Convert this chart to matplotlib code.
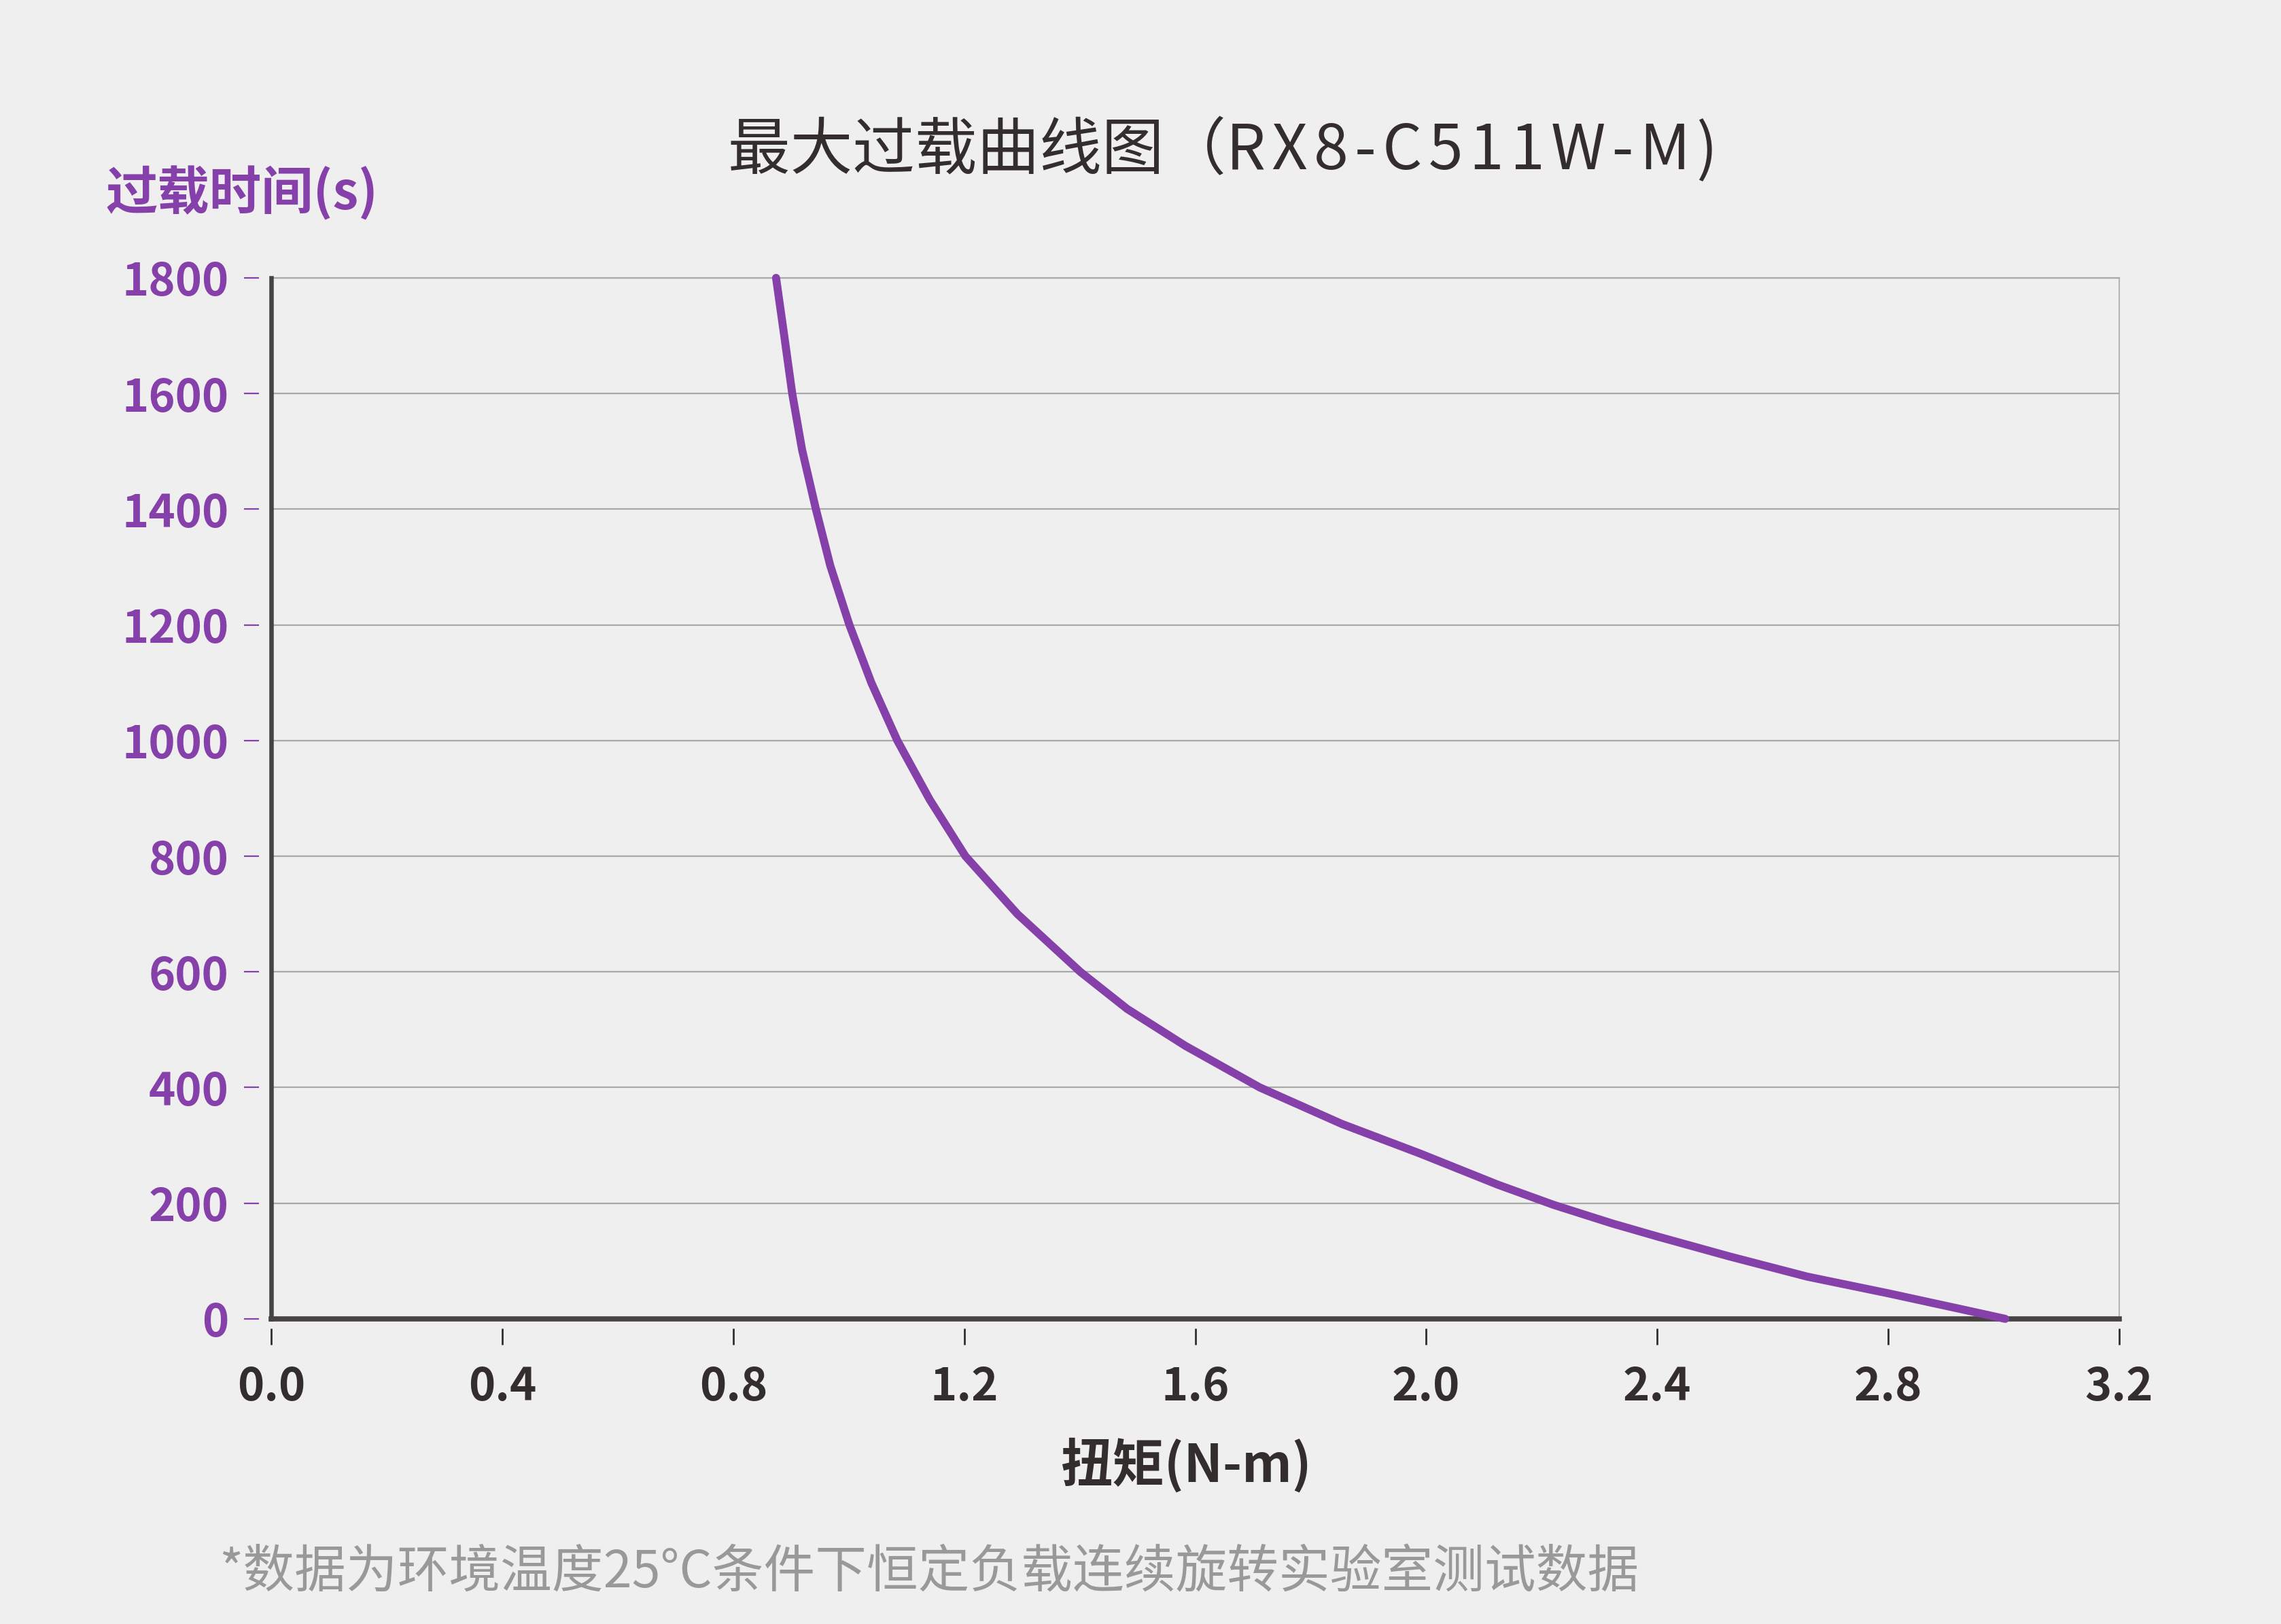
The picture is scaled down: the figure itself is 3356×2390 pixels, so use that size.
import matplotlib.pyplot as plt

# fonts
plt.rcParams['font.family'] = ['Noto Sans CJK SC', 'DejaVu Sans']

# colours
bg_color = '#efefef'
purple = '#8540a9'
dark = '#332e2d'
axis_dark = '#474342'
grid_grey = '#a9a9a9'
note_grey = '#999999'

# texts
title_cn = '最大过载曲线图（'
title_model = 'RX8-C511W-M)'
y_label = '过载时间(s)'
x_label = '扭矩(N-m)'
note = '*数据为环境温度25°C条件下恒定负载连续旋转实验室测试数据'

# data
torque = [0.874, 0.888, 0.902, 0.919, 0.943, 0.968, 1.001, 1.039, 1.084, 1.140,
          1.202, 1.292, 1.401, 1.482, 1.583, 1.712, 1.854, 1.989, 2.124, 2.221,
          2.322, 2.402, 2.525, 2.660, 2.801, 2.930, 3.003]
overload_time = [1800, 1701, 1600, 1503, 1400, 1302, 1200, 1100, 1000, 898,
                 800, 700, 600, 536, 472, 400, 337, 286, 232, 197,
                 165, 142, 108, 73, 44, 16, 0]

x_ticks = [0.0, 0.4, 0.8, 1.2, 1.6, 2.0, 2.4, 2.8, 3.2]
y_ticks = [0, 200, 400, 600, 800, 1000, 1200, 1400, 1600, 1800]

fig = plt.figure(figsize=(33.56, 23.9), dpi=100)
fig.set_facecolor(bg_color)
ax = fig.add_axes([0.119, 0.1879, 0.810, 0.641])
ax.set_facecolor(bg_color)

ax.plot(torque, overload_time, color=purple, lw=8.5, solid_capstyle='round',
        solid_joinstyle='round', zorder=5, clip_on=False)

ax.set_xlim(0, 3.2)
ax.set_ylim(0, 1800)
ax.set_xticks(x_ticks)
ax.set_xticklabels(['%.1f' % t for t in x_ticks])
ax.set_yticks(y_ticks)
ax.set_yticklabels([str(t) for t in y_ticks])

# grid only horizontal
ax.yaxis.grid(True, color=grid_grey, lw=1.6)
ax.set_axisbelow(True)

# spines: ticks live on spines pushed outward, dark axes drawn by hand
ax.spines['left'].set_position(('outward', 13))
ax.spines['left'].set_visible(False)
ax.spines['bottom'].set_position(('outward', 10))
ax.spines['bottom'].set_visible(False)
ax.spines['top'].set_color(grid_grey)
ax.spines['top'].set_linewidth(1.6)
ax.spines['right'].set_color(grid_grey)
ax.spines['right'].set_linewidth(1.2)
ax.axvline(0, color=axis_dark, lw=4.7, zorder=4, clip_on=False)
ax.axhline(0, color=axis_dark, lw=5.5, zorder=4, clip_on=False)

ax.tick_params(axis='y', colors=purple, length=16, width=1.6, pad=16,
               labelsize=48)
ax.tick_params(axis='x', colors=dark, length=17, width=2, pad=21,
               labelsize=48)
for lab in ax.get_yticklabels():
    lab.set_fontweight('bold')
    lab.set_color(purple)
for lab in ax.get_xticklabels():
    lab.set_fontweight('bold')
    lab.set_color(dark)

# title: the model part is letter-spaced with hair spaces
title = title_cn + '\u200a'.join(title_model)
fig.text(0.319, 0.907, title, ha='left', va='center', fontsize=66, color=dark)
fig.text(0.0462, 0.881, y_label, ha='left', va='center', fontsize=55,
         fontweight='bold', color=purple)
fig.text(0.52, 0.098, x_label, ha='center', va='center', fontsize=55,
         fontweight='bold', color=dark)
fig.text(0.096, 0.0315, note, ha='left', va='center', fontsize=54.5,
         color=note_grey)

fig.savefig('out.png', dpi=100, facecolor=bg_color)
